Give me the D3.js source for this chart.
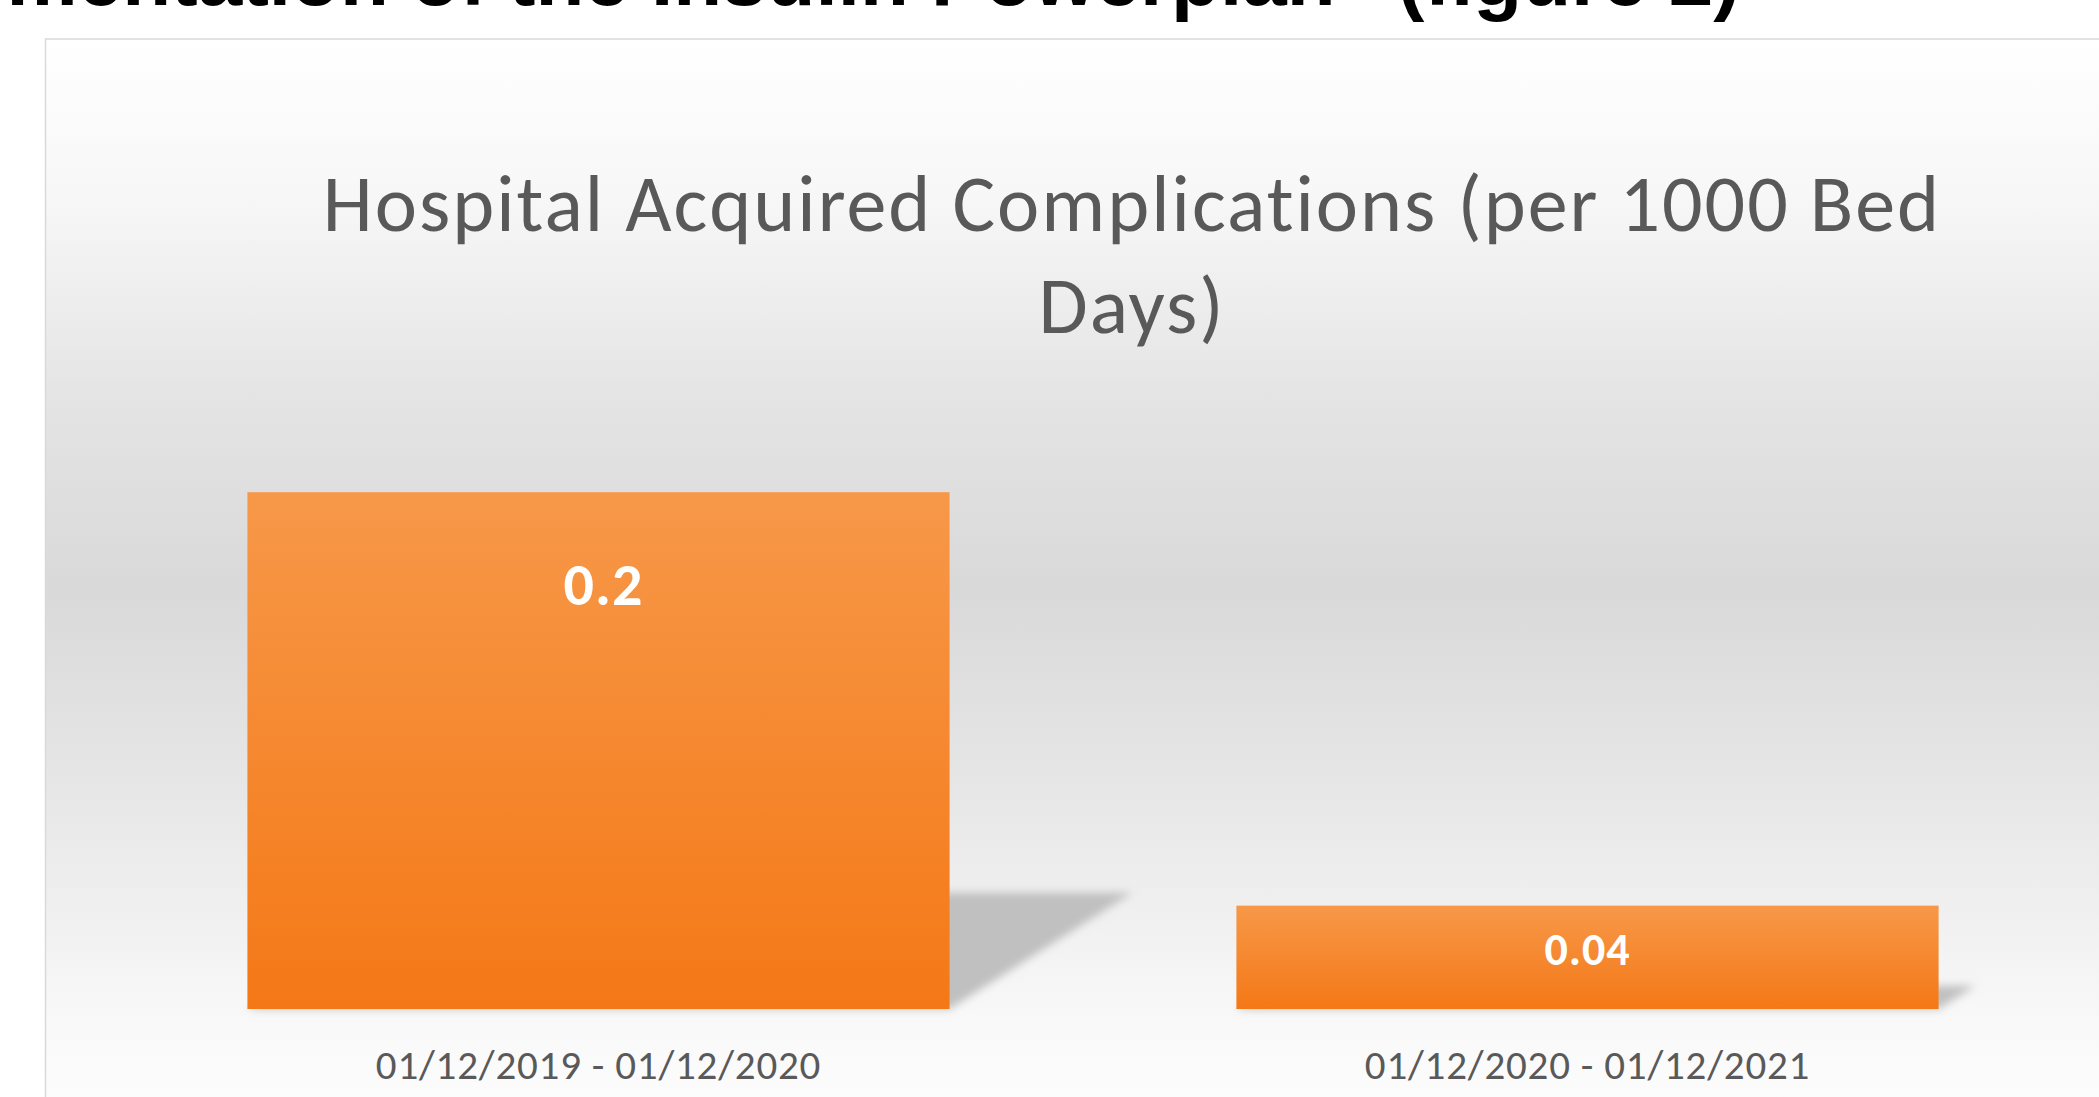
<!DOCTYPE html>
<html lang="en">
<head>
<meta charset="utf-8">
<title>Hospital Acquired Complications</title>
<script src="https://cdn.jsdelivr.net/npm/d3@7"></script>
<style>
  body { margin: 0; background: #ffffff; }
  svg { display: block; }
  .cat { font-family: Carlito, Calibri, Lato, sans-serif; fill: #595959; letter-spacing: 0.8px; }
  .title { font-family: Carlito, Calibri, Lato, sans-serif; fill: #595959; letter-spacing: 2px; }
  .val { font-family: Carlito, Calibri, Lato, sans-serif; font-weight: bold; fill: #ffffff; letter-spacing: 1px; }
</style>
</head>
<body>
<script>
// data
var categories = ["01/12/2019 - 01/12/2020", "01/12/2020 - 01/12/2021"];
var values = [0.2, 0.04];
var valueLabels = ["0.2", "0.04"];
var titleLines = ["Hospital Acquired Complications (per 1000 Bed", "Days)"];
var pageHeading = "Implementation of the Insulin Powerplan\u201D (figure 2)";

var w = 2099, h = 1097;
var base = 1009;

var svg = d3.select("body").append("svg")
  .attr("width", w)
  .attr("height", h);

var defs = svg.append("defs");

// chart area background gradient (white - grey - white)
var bg = defs.append("linearGradient")
  .attr("id", "bg")
  .attr("gradientUnits", "userSpaceOnUse")
  .attr("x1", 0).attr("y1", 39).attr("x2", 0).attr("y2", 1100);
[[0, "#ffffff"], [0.15, "#f7f7f7"], [0.34, "#e4e4e4"], [0.52, "#d9d9d9"], [0.7, "#e6e6e6"], [0.85, "#f2f2f2"], [0.93, "#f9f9f9"], [1, "#fcfcfc"]]
  .forEach(function(s) {
    bg.append("stop").attr("offset", s[0]).attr("stop-color", s[1]);
  });

// bar fill gradient
var bar = defs.append("linearGradient")
  .attr("id", "barFill")
  .attr("x1", 0).attr("y1", 0).attr("x2", 0).attr("y2", 1);
bar.append("stop").attr("offset", 0).attr("stop-color", "#f79849");
bar.append("stop").attr("offset", 1).attr("stop-color", "#f47816");

defs.append("filter")
  .attr("id", "blur")
  .attr("x", "-20%").attr("y", "-20%").attr("width", "140%").attr("height", "140%")
  .append("feGaussianBlur")
  .attr("stdDeviation", 4);

// heading cut off at top of page
svg.append("text")
  .attr("x", 1740)
  .attr("y", 5)
  .attr("text-anchor", "end")
  .attr("font-family", "'Liberation Sans', Arial, sans-serif")
  .attr("font-weight", "bold")
  .attr("font-size", 80)
  .attr("fill", "#000000")
  .text(pageHeading);

// chart frame
svg.append("rect")
  .attr("x", 45.5)
  .attr("y", 39)
  .attr("width", 2200)
  .attr("height", 1200)
  .attr("fill", "url(#bg)")
  .attr("stroke", "#d9d9d9")
  .attr("stroke-width", 1.5);

// scales
var xScale = d3.scaleBand()
  .domain(categories)
  .range([104, 2082])
  .paddingInner(0.29)
  .paddingOuter(0.145);

var yScale = d3.scaleLinear()
  .domain([0, 0.25])
  .range([base, 363]);

// title
svg.append("g")
  .selectAll("text")
  .data(titleLines)
  .enter()
  .append("text")
  .attr("class", "title")
  .attr("x", 1132)
  .attr("y", function(d, i) { return 231 + i * 102; })
  .attr("text-anchor", "middle")
  .attr("font-size", 80)
  .text(function(d) { return d; });

// perspective shadows
svg.append("g")
  .attr("filter", "url(#blur)")
  .selectAll("path")
  .data(values)
  .enter()
  .append("path")
  .attr("fill", "#c0c0c0")
  .attr("d", function(d, i) {
    var x0 = xScale(categories[i]), x1 = x0 + xScale.bandwidth();
    var sh = (base - yScale(d)) * 0.225;
    var dx = sh * 1.57;
    return "M" + x0 + "," + base + "L" + x1 + "," + base +
           "L" + (x1 + dx) + "," + (base - sh) + "L" + (x0 + dx) + "," + (base - sh) + "Z";
  });

// bars
svg.append("g")
  .selectAll("rect")
  .data(values)
  .enter()
  .append("rect")
  .attr("x", function(d, i) { return xScale(categories[i]); })
  .attr("y", function(d) { return yScale(d); })
  .attr("width", xScale.bandwidth())
  .attr("height", function(d) { return base - yScale(d); })
  .attr("fill", "url(#barFill)");

// value labels
svg.append("g")
  .selectAll("text")
  .data(values)
  .enter()
  .append("text")
  .attr("class", "val")
  .attr("x", function(d, i) { return xScale(categories[i]) + xScale.bandwidth() / 2 + (i === 0 ? 5 : 0); })
  .attr("y", function(d, i) { return i === 0 ? yScale(d) + 113 : yScale(d) + 59; })
  .attr("text-anchor", "middle")
  .attr("font-size", function(d, i) { return i === 0 ? 60 : 46; })
  .text(function(d, i) { return valueLabels[i]; });

// category labels
svg.append("g")
  .selectAll("text")
  .data(categories)
  .enter()
  .append("text")
  .attr("class", "cat")
  .attr("x", function(d) { return xScale(d) + xScale.bandwidth() / 2; })
  .attr("y", 1079)
  .attr("text-anchor", "middle")
  .attr("font-size", 41)
  .text(function(d) { return d; });
</script>
</body>
</html>
